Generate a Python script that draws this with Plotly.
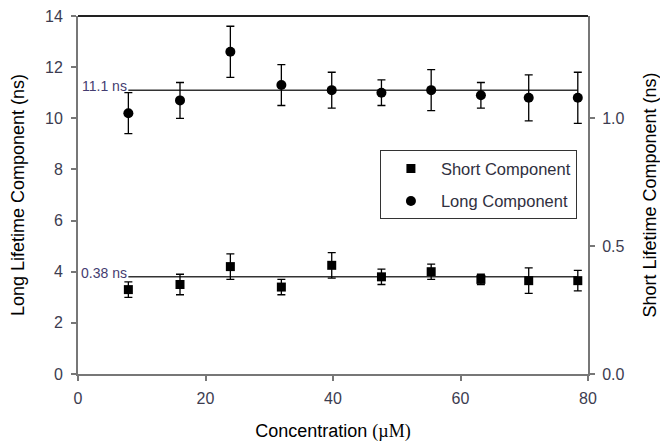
import plotly.graph_objects as go

# Concentration series (µM)
conc = [7.9, 16.0, 23.9, 31.9, 39.8, 47.6, 55.4, 63.2, 70.7, 78.4]

# Long lifetime component (ns) and its uncertainty
long_tau = [10.2, 10.7, 12.6, 11.3, 11.1, 11.0, 11.1, 10.9, 10.8, 10.8]
long_err = [0.8, 0.7, 1.0, 0.8, 0.7, 0.5, 0.8, 0.5, 0.9, 1.0]

# Short lifetime component (ns) and its uncertainty
short_tau = [0.33, 0.35, 0.42, 0.34, 0.425, 0.38, 0.40, 0.37, 0.365, 0.365]
short_err = [0.03, 0.04, 0.05, 0.03, 0.05, 0.03, 0.03, 0.02, 0.05, 0.04]

# Average lifetimes shown as horizontal reference lines
long_mean = 11.1
short_mean = 0.38

FONT = "Liberation Sans, Arial, sans-serif"
TICK_COLOR = "#3c3c50"
AXIS_COLOR = "#777777"
LABEL_COLOR = "#443c70"

fig = go.Figure()

# Reference lines spanning the measured concentrations
fig.add_trace(go.Scatter(
    x=[conc[0], conc[-1]], y=[long_mean, long_mean], mode="lines",
    line=dict(color="#333333", width=1.5), showlegend=False, hoverinfo="skip",
))
fig.add_trace(go.Scatter(
    x=[conc[0], conc[-1]], y=[short_mean, short_mean], mode="lines",
    line=dict(color="#333333", width=1.5), showlegend=False, hoverinfo="skip",
    yaxis="y2",
))

fig.add_trace(go.Scatter(
    x=conc, y=short_tau, mode="markers", name="Short Component",
    legendgroup="short",
    marker=dict(symbol="square", size=9, color="black"),
    error_y=dict(type="data", array=short_err, color="black", thickness=1.3, width=4),
    yaxis="y2",
))
fig.add_trace(go.Scatter(
    x=conc, y=long_tau, mode="markers", name="Long Component",
    legendgroup="long",
    marker=dict(symbol="circle", size=10, color="black"),
    error_y=dict(type="data", array=long_err, color="black", thickness=1.3, width=4),
))

fig.add_annotation(
    x=conc[0], y=long_mean, xref="x", yref="y", text="11.1 ns",
    showarrow=False, xanchor="right", yanchor="bottom", yshift=-6, xshift=1,
    font=dict(family=FONT, size=14, color=LABEL_COLOR),
)
fig.add_annotation(
    x=conc[0], y=short_mean, xref="x", yref="y2", text="0.38 ns",
    showarrow=False, xanchor="right", yanchor="bottom", yshift=-6, xshift=1,
    font=dict(family=FONT, size=14, color=LABEL_COLOR),
)

# Dark frame line along the top of the plot area
fig.add_shape(type="line", xref="paper", yref="paper", x0=0, x1=1, y0=1, y1=1,
              line=dict(color="#222222", width=2))

fig.update_layout(
    width=660, height=445,
    margin=dict(l=78, r=72, t=16, b=71),
    paper_bgcolor="white", plot_bgcolor="white",
    font=dict(family=FONT, size=16, color=TICK_COLOR),
    xaxis=dict(
        range=[0, 80], tickvals=[0, 20, 40, 60, 80],
        showgrid=False, zeroline=False, automargin=False,
        showline=True, linecolor=AXIS_COLOR, linewidth=2,
        ticks="outside", ticklen=5, tickcolor=AXIS_COLOR, tickwidth=1.5,
        ticklabelstandoff=4,
        tickfont=dict(size=16, color=TICK_COLOR),
        title=dict(
            text="Concentration <span style=\"font-family:'Liberation Serif', 'Times New Roman', serif\">(µM)</span>",
            font=dict(size=18, color="black"), standoff=18,
        ),
    ),
    yaxis=dict(
        range=[0, 14], tickvals=[0, 2, 4, 6, 8, 10, 12, 14],
        showgrid=False, zeroline=False, automargin=False,
        showline=True, linecolor=AXIS_COLOR, linewidth=2,
        ticks="outside", ticklen=5, tickcolor=AXIS_COLOR, tickwidth=1.5,
        ticklabelstandoff=5,
        tickfont=dict(size=16, color=TICK_COLOR),
        title=dict(text="Long Lifetime Component (ns)",
                   font=dict(size=18, color="black"), standoff=16),
    ),
    yaxis2=dict(
        range=[0, 1.4], tickvals=[0, 0.5, 1.0], tickformat=".1f",
        overlaying="y", side="right",
        showgrid=False, zeroline=False, automargin=False,
        showline=True, linecolor=AXIS_COLOR, linewidth=2,
        ticks="outside", ticklen=5, tickcolor=AXIS_COLOR, tickwidth=1.5,
        ticklabelstandoff=4,
        tickfont=dict(size=16, color=TICK_COLOR),
        title=dict(text="Short Lifetime Component (ns)",
                   font=dict(size=18, color="black"), standoff=20),
    ),
    legend=dict(
        x=0.592, y=0.625, xanchor="left", yanchor="top",
        bgcolor="white", bordercolor="#333333", borderwidth=1,
        font=dict(family=FONT, size=16.5, color="#303040"),
        traceorder="grouped", itemwidth=50, tracegroupgap=8,
    ),
)

fig.write_html("out.html")
